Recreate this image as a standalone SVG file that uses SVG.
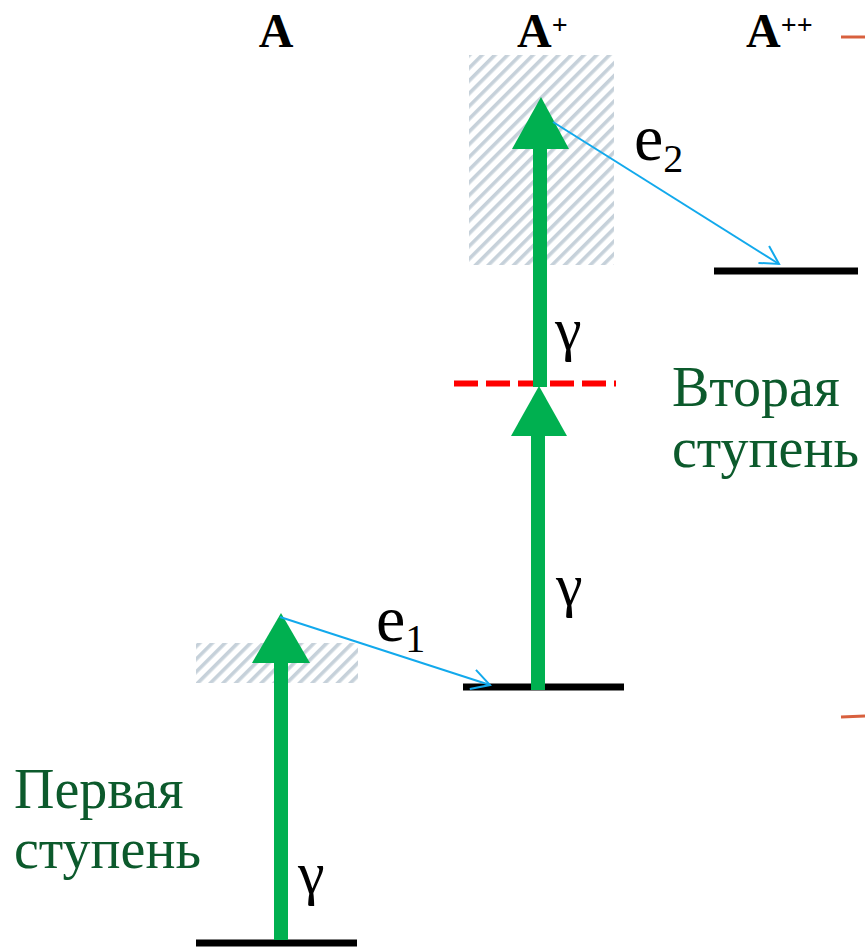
<svg xmlns="http://www.w3.org/2000/svg" width="865" height="947" viewBox="0 0 865 947">
<defs>
<pattern id="hatch" patternUnits="userSpaceOnUse" width="9" height="9" patternTransform="rotate(45)">
<rect width="9" height="9" fill="#ffffff"/>
<rect width="3.6" height="9" fill="#C6D1DA"/>
</pattern>
<marker id="open" markerUnits="userSpaceOnUse" markerWidth="24" markerHeight="24" refX="20" refY="10" orient="auto" viewBox="0 0 24 20">
<path d="M2,0 L20,10 L2,20" fill="none" stroke="#12A9EC" stroke-width="2"/>
</marker>
</defs>

<g id="titles" fill="#000">
<text x="276" y="47" text-anchor="middle" font-family="Liberation Serif" font-weight="bold" font-size="48">A</text>
<text x="517" y="47" font-family="Liberation Serif" font-weight="bold" font-size="48">A<tspan font-size="28" dy="-13">+</tspan></text>
<text x="746" y="47" font-family="Liberation Serif" font-weight="bold" font-size="48">A<tspan font-size="28" dy="-13">++</tspan></text>
</g>

<g id="hatch-upper"><rect fill="url(#hatch)" x="469" y="55" width="145" height="210"/></g>
<g id="hatch-lower"><rect fill="url(#hatch)" x="196" y="643" width="162" height="40"/></g>

<g id="levels" stroke="#000" stroke-width="7">
<g id="level-A"><line x1="196" y1="943" x2="357" y2="943"/></g>
<g id="level-Aplus"><line x1="463" y1="687" x2="624" y2="687"/></g>
<g id="level-Aplusplus"><line x1="714" y1="271" x2="858" y2="271"/></g>
</g>
<g id="virtual-level"><line x1="454" y1="383.5" x2="616" y2="383.5" stroke="#FF0000" stroke-width="6" stroke-dasharray="24 8"/></g>

<g id="connectors">
<g stroke="#00B050" stroke-width="14">
<line x1="281" y1="940" x2="281" y2="660"/>
<line x1="538" y1="690" x2="538" y2="430"/>
<line x1="540" y1="387" x2="540" y2="145"/>
</g>
<g fill="#00B050">
<polygon points="281,613 252,663 310,663"/>
<polygon points="539,386 511,436 567,436"/>
<polygon points="541,97 512,149 569,149"/>
</g>
<g stroke="#12A9EC" stroke-width="2" fill="none">
<line x1="280" y1="617" x2="490" y2="685" marker-end="url(#open)"/>
<line x1="553" y1="122" x2="779" y2="264" marker-end="url(#open)"/>
</g>
</g>

<g id="labels" fill="#000">
<text x="555" y="349" font-family="Liberation Serif" font-size="60">γ</text>
<text x="556" y="605" font-family="Liberation Serif" font-size="60">γ</text>
<text x="298" y="893" font-family="Liberation Serif" font-size="60">γ</text>
<text x="376" y="641" font-family="Liberation Serif" font-size="66">e<tspan font-size="40" dy="11">1</tspan></text>
<text x="634" y="160" font-family="Liberation Serif" font-size="66">e<tspan font-size="40" dy="12">2</tspan></text>
</g>

<g id="stage2" fill="#0C5A2C">
<text x="672" y="406" font-family="Liberation Serif" font-size="56">Вторая</text>
<text x="672" y="467" font-family="Liberation Serif" font-size="56">ступень</text>
</g>
<g id="stage1" fill="#0C5A2C">
<text x="14" y="808" font-family="Liberation Serif" font-size="56">Первая</text>
<text x="14" y="868" font-family="Liberation Serif" font-size="56">ступень</text>
</g>

<g id="edge-marks" stroke="#D8603E" stroke-width="3">
<line x1="841" y1="37" x2="865" y2="37"/>
<line x1="841" y1="717" x2="865" y2="716"/>
</g>
</svg>
